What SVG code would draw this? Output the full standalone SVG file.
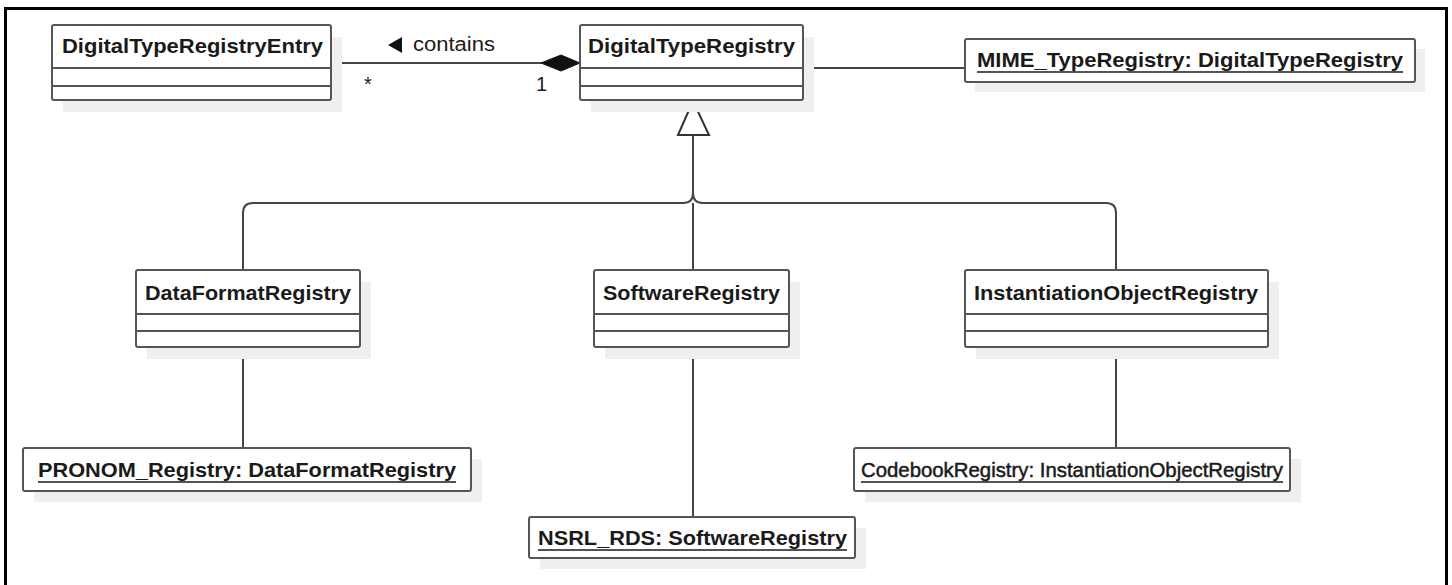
<svg xmlns="http://www.w3.org/2000/svg" width="1452" height="585" viewBox="0 0 1452 585">
  <style>
    .box { fill: #ffffff; stroke: #555555; stroke-width: 2; }
    .shadow { fill: #efefef; stroke: none; }
    .div { stroke: #555555; stroke-width: 2; }
    .name { font-family: "Liberation Sans", Arial, sans-serif; font-size: 21px; font-weight: bold; fill: #1a1a1a; }
    .inst { font-family: "Liberation Sans", Arial, sans-serif; font-size: 21px; font-weight: bold; fill: #1a1a1a; }
    .instn { font-family: "Liberation Sans", Arial, sans-serif; font-size: 21px; font-weight: normal; fill: #1a1a1a; stroke: #1a1a1a; stroke-width: 0.5; }
    .ul { stroke: #1a1a1a; stroke-width: 1.6; }
    .lbl { font-family: "Liberation Sans", Arial, sans-serif; font-size: 20px; fill: #1a1a1a; }
    .conn { fill: none; stroke: #444444; stroke-width: 2; }
  </style>
  <rect x="0" y="0" width="1452" height="585" fill="#ffffff"/>
  <rect x="5.5" y="8.5" width="1441" height="600" fill="none" stroke="#000000" stroke-width="3"/>

  <g id="connectors">
    <!-- composition -->
    <line class="conn" x1="331" y1="63" x2="542" y2="63"/>
    <polygon points="541,63 561,55 580,63 561,71" fill="#111111" stroke="#111111" stroke-width="1"/>
    <polygon points="388,45 402,37 402,53" fill="#111111"/>
    <text class="lbl" x="413" y="51" textLength="82" lengthAdjust="spacingAndGlyphs">contains</text>
    <text class="lbl" x="364" y="91">*</text>
    <text class="lbl" x="536" y="91">1</text>
    <!-- link to MIME -->
    <line class="conn" x1="803" y1="68" x2="965" y2="68"/>
    <!-- generalization -->
    <polygon points="693,101 678,135 709,135" fill="#ffffff" stroke="#333333" stroke-width="2"/>
    <line class="conn" x1="693" y1="135" x2="693" y2="194" stroke="#333333"/>
    <path class="conn" d="M 243 270 V 213 Q 243 203 253 203 H 683 Q 693 203 693 193"/>
    <path class="conn" d="M 1116 270 V 213 Q 1116 203 1106 203 H 703 Q 693 203 693 193"/>
    <line class="conn" x1="693" y1="203" x2="693" y2="270" stroke="#666666"/>
    <!-- instance links -->
    <line class="conn" x1="243" y1="347" x2="243" y2="448" stroke="#333333"/>
    <line class="conn" x1="693" y1="347" x2="693" y2="517" stroke="#333333"/>
    <line class="conn" x1="1116" y1="347" x2="1116" y2="448" stroke="#333333"/>
  </g>

  <g id="DigitalTypeRegistryEntry">
    <rect class="shadow" x="63" y="37" width="279" height="75"/>
    <rect class="box" x="52" y="25" width="279" height="75" rx="2"/>
    <line class="div" x1="52" y1="68" x2="331" y2="68"/>
    <line class="div" x1="52" y1="86" x2="331" y2="86"/>
    <text class="name" x="62" y="53" textLength="261" lengthAdjust="spacingAndGlyphs">DigitalTypeRegistryEntry</text>
  </g>

  <g id="DigitalTypeRegistry">
    <rect class="shadow" x="591" y="37" width="223" height="75"/>
    <rect class="box" x="580" y="25" width="223" height="75" rx="2"/>
    <line class="div" x1="580" y1="68" x2="803" y2="68"/>
    <line class="div" x1="580" y1="86" x2="803" y2="86"/>
    <text class="name" x="588" y="53" textLength="207" lengthAdjust="spacingAndGlyphs">DigitalTypeRegistry</text>
  </g>

  <g id="MIME_TypeRegistry">
    <rect class="shadow" x="975" y="49" width="450" height="43"/>
    <rect class="box" x="965" y="39" width="450" height="43" rx="2"/>
    <text class="inst" x="977" y="67" textLength="426" lengthAdjust="spacingAndGlyphs">MIME_TypeRegistry: DigitalTypeRegistry</text>
    <line class="ul" x1="977" y1="72" x2="1403" y2="72"/>
  </g>

  <g id="DataFormatRegistry">
    <rect class="shadow" x="147" y="282" width="224" height="77"/>
    <rect class="box" x="136" y="270" width="224" height="77" rx="2"/>
    <line class="div" x1="136" y1="314" x2="360" y2="314"/>
    <line class="div" x1="136" y1="331" x2="360" y2="331"/>
    <text class="name" x="145" y="300" textLength="206" lengthAdjust="spacingAndGlyphs">DataFormatRegistry</text>
  </g>

  <g id="SoftwareRegistry">
    <rect class="shadow" x="605" y="282" width="195" height="77"/>
    <rect class="box" x="594" y="270" width="195" height="77" rx="2"/>
    <line class="div" x1="594" y1="314" x2="789" y2="314"/>
    <line class="div" x1="594" y1="331" x2="789" y2="331"/>
    <text class="name" x="603" y="300" textLength="177" lengthAdjust="spacingAndGlyphs">SoftwareRegistry</text>
  </g>

  <g id="InstantiationObjectRegistry">
    <rect class="shadow" x="976" y="282" width="303" height="77"/>
    <rect class="box" x="965" y="270" width="303" height="77" rx="2"/>
    <line class="div" x1="965" y1="314" x2="1268" y2="314"/>
    <line class="div" x1="965" y1="331" x2="1268" y2="331"/>
    <text class="name" x="974" y="300" textLength="284" lengthAdjust="spacingAndGlyphs">InstantiationObjectRegistry</text>
  </g>

  <g id="PRONOM_Registry">
    <rect class="shadow" x="34" y="459" width="448" height="43"/>
    <rect class="box" x="23" y="448" width="448" height="43" rx="2"/>
    <text class="inst" x="38" y="477" textLength="418" lengthAdjust="spacingAndGlyphs">PRONOM_Registry: DataFormatRegistry</text>
    <line class="ul" x1="38" y1="482" x2="456" y2="482"/>
  </g>

  <g id="NSRL_RDS">
    <rect class="shadow" x="540" y="528" width="326" height="41"/>
    <rect class="box" x="529" y="517" width="326" height="41" rx="2"/>
    <text class="inst" x="538" y="545" textLength="309" lengthAdjust="spacingAndGlyphs">NSRL_RDS: SoftwareRegistry</text>
    <line class="ul" x1="538" y1="550" x2="847" y2="550"/>
  </g>

  <g id="CodebookRegistry">
    <rect class="shadow" x="865" y="459" width="436" height="43"/>
    <rect class="box" x="854" y="448" width="436" height="43" rx="2"/>
    <text class="instn" x="861" y="477" textLength="422" lengthAdjust="spacingAndGlyphs">CodebookRegistry: InstantiationObjectRegistry</text>
    <line class="ul" x1="861" y1="482" x2="1283" y2="482"/>
  </g>
</svg>
